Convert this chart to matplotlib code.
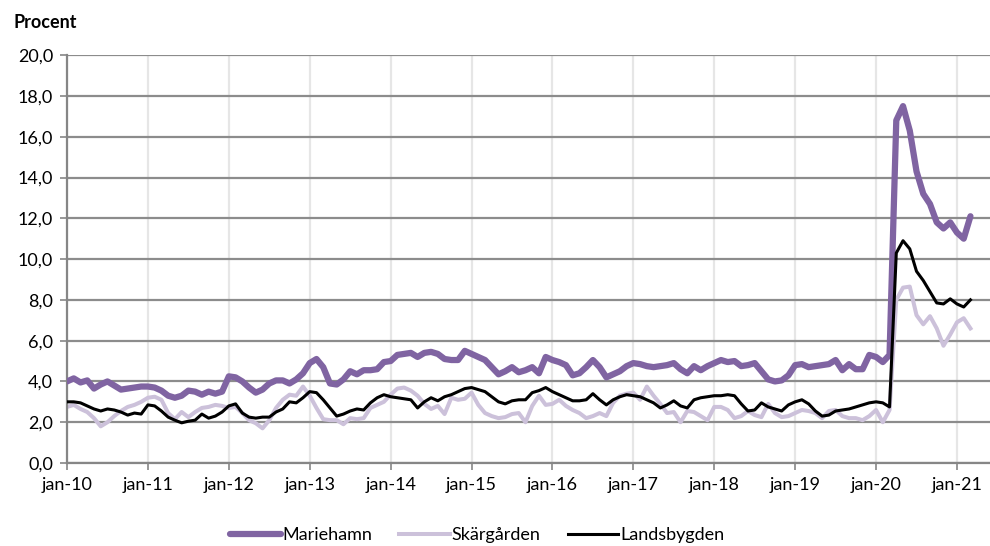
import numpy as np
import matplotlib
matplotlib.use("Agg")
from matplotlib import pyplot as plt

plt.rcParams["font.family"] = ["Lato", "DejaVu Sans"]

# monthly values, jan-10 .. mar-21
mariehamn = [
    4.0, 4.15, 3.95, 4.05, 3.65, 3.85, 4.0, 3.8, 3.6, 3.65, 3.7, 3.75,
    3.75, 3.7, 3.55, 3.3, 3.2, 3.3, 3.55, 3.5, 3.35, 3.5, 3.4, 3.5,
    4.25, 4.2, 4.0, 3.7, 3.45, 3.6, 3.9, 4.05, 4.05, 3.9, 4.1, 4.4,
    4.9, 5.1, 4.7, 3.9, 3.85, 4.1, 4.5, 4.35, 4.55, 4.55, 4.6, 4.95,
    5.0, 5.3, 5.35, 5.4, 5.2, 5.4, 5.45, 5.35, 5.1, 5.05, 5.05, 5.5,
    5.35, 5.2, 5.05, 4.7, 4.35, 4.5, 4.7, 4.45, 4.55, 4.7, 4.4, 5.2,
    5.05, 4.95, 4.8, 4.3, 4.4, 4.7, 5.05, 4.7, 4.2, 4.35, 4.5, 4.75,
    4.9, 4.85, 4.75, 4.7, 4.75, 4.8, 4.9, 4.6, 4.4, 4.75, 4.55, 4.75,
    4.9, 5.05, 4.95, 5.0, 4.75, 4.8, 4.9, 4.5, 4.1, 4.0, 4.05, 4.3,
    4.8, 4.85, 4.7, 4.75, 4.8, 4.85, 5.05, 4.55, 4.85, 4.6, 4.6, 5.3,
    5.2, 4.95, 5.3, 16.8, 17.5, 16.3, 14.3, 13.2, 12.7, 11.8, 11.5, 11.8,
    11.3, 11.0, 12.1,
]
skargarden = [
    2.75, 2.85, 2.65, 2.5, 2.2, 1.8, 2.0, 2.3, 2.55, 2.75, 2.85, 3.0,
    3.2, 3.25, 3.1, 2.45, 2.15, 2.5, 2.25, 2.5, 2.7, 2.75, 2.85, 2.8,
    2.7, 2.75, 2.45, 2.1, 1.95, 1.7, 2.1, 2.7, 3.1, 3.35, 3.3, 3.75,
    3.3, 2.7, 2.15, 2.1, 2.1, 1.9, 2.2, 2.15, 2.2, 2.7, 2.85, 3.0,
    3.35, 3.65, 3.7, 3.55, 3.3, 2.9, 2.65, 2.8, 2.4, 3.2, 3.1, 3.15,
    3.45, 2.85, 2.45, 2.3, 2.2, 2.25, 2.4, 2.45, 2.0, 2.8, 3.3, 2.85,
    2.9, 3.1, 2.8, 2.6, 2.45, 2.2, 2.3, 2.45, 2.3, 2.95, 3.3, 3.4,
    3.45, 3.1, 3.75, 3.3, 2.9, 2.45, 2.5, 2.0, 2.55, 2.5, 2.3, 2.1,
    2.75, 2.75, 2.6, 2.2, 2.3, 2.55, 2.35, 2.25, 2.9, 2.45, 2.25, 2.3,
    2.45, 2.6, 2.55, 2.45, 2.2, 2.55, 2.6, 2.3, 2.2, 2.2, 2.1, 2.3,
    2.6, 2.0, 2.6, 8.0, 8.6, 8.65, 7.25, 6.8, 7.2, 6.6, 5.75, 6.3,
    6.9, 7.1, 6.6,
]
landsbygden = [
    3.0, 3.0, 2.95, 2.8, 2.65, 2.55, 2.65, 2.6, 2.5, 2.35, 2.45, 2.4,
    2.85, 2.8, 2.55, 2.25, 2.1, 1.97, 2.05, 2.1, 2.4, 2.2, 2.3, 2.5,
    2.8, 2.9, 2.45, 2.25, 2.2, 2.25, 2.25, 2.5, 2.65, 3.0, 2.95, 3.2,
    3.5, 3.45, 3.1, 2.7, 2.3, 2.4, 2.55, 2.65, 2.6, 2.95, 3.2, 3.35,
    3.25, 3.2, 3.15, 3.1, 2.7, 3.0, 3.2, 3.05, 3.25, 3.35, 3.5, 3.65,
    3.7, 3.6, 3.5, 3.25, 3.0, 2.9, 3.05, 3.1, 3.1, 3.45, 3.55, 3.7,
    3.5, 3.35, 3.2, 3.05, 3.05, 3.1, 3.4, 3.1, 2.85, 3.1, 3.25, 3.35,
    3.3, 3.25, 3.1, 2.95, 2.7, 2.85, 3.05, 2.8, 2.7, 3.1, 3.2, 3.25,
    3.3, 3.3, 3.35, 3.3, 2.9, 2.55, 2.6, 2.95, 2.75, 2.65, 2.55, 2.85,
    3.0, 3.1, 2.9, 2.55, 2.3, 2.35, 2.55, 2.6, 2.65, 2.75, 2.85, 2.95,
    3.0, 2.95, 2.75, 10.3, 10.9, 10.5, 9.4, 8.95, 8.4, 7.85, 7.8, 8.05,
    7.8, 7.65, 8.0,
]
year_labels = ["jan-10", "jan-11", "jan-12", "jan-13", "jan-14", "jan-15",
               "jan-16", "jan-17", "jan-18", "jan-19", "jan-20", "jan-21"]
y_ticks = [0, 2, 4, 6, 8, 10, 12, 14, 16, 18, 20]

months = np.arange(len(mariehamn))

fig = plt.figure(figsize=(9.9, 5.46), dpi=100)
ax = fig.add_axes([0.0677, 0.152, 0.9323, 0.747])

ax.plot(months, mariehamn, color="#8064A2", lw=4.5, solid_joinstyle="round",
        solid_capstyle="round", label="Mariehamn", zorder=3)
ax.plot(months, skargarden, color="#CCC1DA", lw=2.9, solid_joinstyle="round",
        label="Skärgården", zorder=2)
ax.plot(months, landsbygden, color="black", lw=2.2, solid_joinstyle="round",
        label="Landsbygden", zorder=4)

ax.set_xlim(0, 136.9)
ax.set_ylim(0, 20)
ax.set_xticks(np.arange(0, 12 * len(year_labels), 12))
ax.set_xticklabels(year_labels, fontsize=13)
ax.set_yticks(y_ticks)
ax.set_yticklabels([f"{v:.1f}".replace(".", ",") for v in y_ticks], fontsize=13)

ax.grid(axis="y", color="#8C8C8C", lw=1.6)
ax.grid(axis="x", color="#E6E6E6", lw=1.6)
ax.set_axisbelow(True)
for side in ["top", "right"]:
    ax.spines[side].set_visible(False)
for side in ["left", "bottom"]:
    ax.spines[side].set_color("#868686")
    ax.spines[side].set_linewidth(1.6)
ax.tick_params(axis="both", color="#868686", width=1.2, length=5, pad=5)

fig.text(0.014, 0.958, "Procent", fontsize=13, fontweight="bold", va="center")

fig.legend(loc="center", bbox_to_anchor=(0.482, 0.02), ncol=3, frameon=False,
           fontsize=13, handlelength=2.8, handletextpad=0.1, columnspacing=1.5)

fig.savefig("out.png", dpi=100)
